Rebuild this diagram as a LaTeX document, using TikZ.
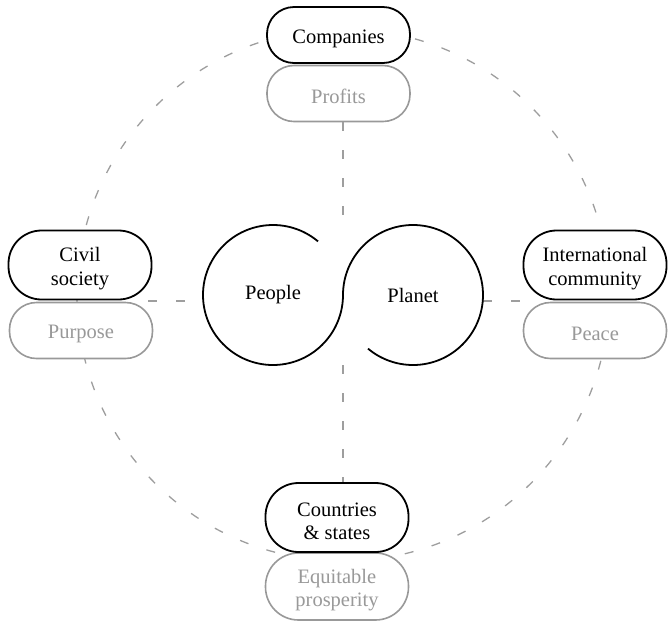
\documentclass[tikz,border=0pt]{standalone}
\usepackage{fontspec}
\setmainfont{Liberation Serif}
\usetikzlibrary{calc}
\definecolor{soft}{gray}{0.6}
\definecolor{dashgray}{gray}{0.62}
\newcommand\mystrut{\rule{0pt}{21pt}}
\begin{document}
\begin{tikzpicture}[x=1pt,y=-1pt,
  mainbox/.style={rectangle, draw=black, line width=1.8pt, fill=white,
    minimum width=143pt, minimum height=56pt, rounded corners=27pt,
    align=center, inner sep=0pt, font=\fontsize{20.5}{23.5}\selectfont},
  tallbox/.style={minimum height=69pt, rounded corners=33pt},
  goalbox/.style={mainbox, draw=soft, text=soft, line width=1.6pt},
  dashline/.style={draw=dashgray, line width=1.3pt, dash pattern=on 9pt off 19pt},
  label/.style={font=\fontsize{20.5}{23}\selectfont, inner sep=0pt}]
\useasboundingbox (0,0) rectangle (670,625);
% centre points
\coordinate (mid) at (343,295);
\coordinate (vtop) at (343,225);
\coordinate (vbot) at (343,365);
\coordinate (hl) at (148,301);
\coordinate (hlc) at (203,301);
\coordinate (hrc) at (483,301);
\coordinate (hr) at (530,301);
% big dashed circle
\draw[dashline] (mid) circle[radius=266pt];
% boxes
\node[goalbox] (prof) at (338.5,93.5) {\mystrut Profits};
\node[mainbox] (comp) at (338.5,35) {\mystrut Companies};
\node[goalbox] (purp) at (81,330.5) {\mystrut Purpose};
\node[mainbox,tallbox] (civil) at (80,265) {\mystrut Civil\\society};
\node[goalbox] (peace) at (595,330.5) {\mystrut Peace};
\node[mainbox,tallbox] (intl) at (595,265) {\mystrut International\\community};
\node[goalbox,tallbox,minimum height=67pt] (equi) at (337,586.5) {\mystrut Equitable\\prosperity};
\node[mainbox,tallbox] (ctry) at (337,517.5) {\mystrut Countries\\\&\ states};
% connectors
\draw[dashline] (vtop |- prof.south) -- (vtop);
\draw[dashline] (vbot) -- (vbot |- ctry.north);
\draw[dashline] (hl) -- (hlc);
\draw[dashline] (hrc) -- (hr);
% people / planet
\node[label] (people) at (273,295) {People};
\node[label] (planet) at (413,295) {Planet};
\draw[line width=1.8pt] ($(people.center)+(50:70pt)$)
  arc[start angle=50, end angle=360, radius=70pt]
  arc[start angle=180, end angle=-130, radius=70pt];
\end{tikzpicture}
\end{document}
